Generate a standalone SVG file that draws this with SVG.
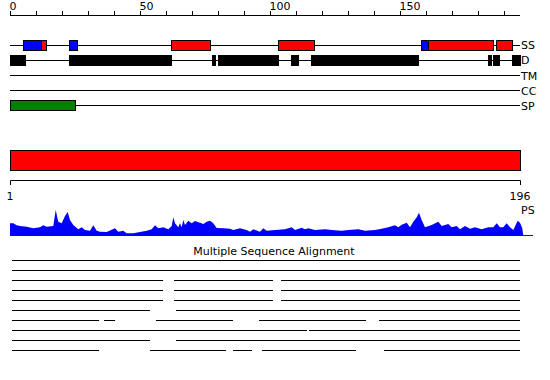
<svg xmlns="http://www.w3.org/2000/svg" width="550" height="380" viewBox="0 0 550 380">
<style>
text{font-family:"DejaVu Sans","Liberation Sans",sans-serif;font-size:11px;fill:#000}
.ln{stroke:#000;stroke-width:1;fill:none}
.bx{stroke:#000;stroke-width:1}
.blue{fill:#0000ff}
.red{fill:#ff0000}
.grn{fill:#008000}
.blk{fill:#000}
</style>
<rect width="550" height="380" fill="#fff"/>
<g id="ruler">
<path class="ln" d="M10,15.5H520M10.5,11V15M36.5,11V15M62.5,11V15M88.5,11V15M114.5,11V15M140.5,11V15M166.5,11V15M192.5,11V15M218.5,11V15M244.5,11V15M270.5,11V15M296.5,11V15M322.5,11V15M348.5,11V15M374.5,11V15M400.5,11V15M426.5,11V15M452.5,11V15M478.5,11V15M504.5,11V15"/>
<text x="9.5" y="10">0</text>
<text x="139.5" y="10">50</text>
<text x="269.5" y="10">100</text>
<text x="399.5" y="10">150</text>
</g>
<g id="track-ss">
<path class="ln" d="M10,45.5H520"/>
<rect class="bx blue" x="23.5" y="40.5" width="18" height="10"/>
<rect class="bx red" x="41.5" y="40.5" width="5" height="10"/>
<rect class="bx blue" x="69.5" y="40.5" width="8" height="10"/>
<rect class="bx red" x="171.5" y="40.5" width="39" height="10"/>
<rect class="bx red" x="278.5" y="40.5" width="36" height="10"/>
<rect class="bx blue" x="421.5" y="40.5" width="7" height="10"/>
<rect class="bx red" x="428.5" y="40.5" width="65" height="10"/>
<rect class="bx red" x="496.5" y="40.5" width="16" height="10"/>
<text x="521" y="49">SS</text>
</g>
<g id="track-d">
<path class="ln" d="M10,60.5H520"/>
<rect class="blk" x="10" y="55" width="16" height="11"/>
<rect class="blk" x="69" y="55" width="103" height="11"/>
<rect class="blk" x="212" y="55" width="4" height="11"/>
<rect class="blk" x="218" y="55" width="61" height="11"/>
<rect class="blk" x="291" y="55" width="8" height="11"/>
<rect class="blk" x="311" y="55" width="108" height="11"/>
<rect class="blk" x="488" y="55" width="4" height="11"/>
<rect class="blk" x="493" y="55" width="7" height="11"/>
<rect class="blk" x="512" y="55" width="9" height="11"/>
<text x="521" y="64">D</text>
</g>
<g id="track-tm">
<path class="ln" d="M10,75.5H520"/>
<text x="521" y="80">TM</text>
</g>
<g id="track-cc">
<path class="ln" d="M10,90.5H520"/>
<text x="521" y="95">CC</text>
</g>
<g id="track-sp">
<path class="ln" d="M10,105.5H520"/>
<rect class="bx grn" x="10.5" y="100.5" width="65" height="10"/>
<text x="521" y="110">SP</text>
</g>
<g id="overview">
<rect class="bx red" x="10.5" y="150.5" width="510" height="20"/>
<path class="ln" d="M10.5,185V180.5H520.5V185"/>
<text x="10" y="200" text-anchor="middle">1</text>
<text x="520" y="200" text-anchor="middle">196</text>
</g>
<g id="profile">
<polygon fill="#0000ff" points="10,236 10,223.3 13.3,223.3 16.7,225.3 20,226 26.7,226.7 33.3,228.3 40,227.3 43.3,225.3 46.7,226.7 53.3,226 55.7,210 58.3,221.7 61.7,223.3 65,216 67.7,212 70,220 73.3,225 78.3,229.3 81.7,227.3 85,230 90,230.7 93.3,225.3 96.7,230.7 100,231.7 106.7,232 115,228.3 118.3,231.7 123.3,230.7 126.7,233.3 133.3,233.3 140,232 146.7,230.7 151.7,229.3 155,225.3 158.3,228.3 163.3,227.3 168.3,229.3 171.7,226 173.3,217.3 175,223.3 178.3,227.3 180,223.3 181.7,227.3 183.3,220 185,225 188.3,220.7 191.7,223.3 195,221 200,222.7 203.3,224 206.7,221.7 210,220.7 213.3,223.3 216.7,228 223.3,228.3 230,228.7 233.3,230 240,228.3 246.7,230 250,231.7 253.3,229.3 260,231.7 263.3,228.3 266.7,230.7 275,230 285,229.3 291.7,227.3 295,230 301.7,227.7 305,229.3 308.3,228.3 315,230 325,229.3 331.7,230 341.7,230.7 348.3,230 358.3,229.3 365,230.7 375,230 381.7,228.7 388.3,227.3 395,225.3 398.3,227.3 401.7,224.7 406.7,222.7 410,227.3 413.3,221.7 416.7,217.3 419,212.7 421.7,220 425,227.3 431.7,225 438.3,221.7 441.7,226 448.3,224 451.7,227.3 456.7,226 460,229.3 465,226 470,228.7 475,227.3 481.7,229.3 488.3,227.3 493.3,227.3 496.7,223.3 500,227.3 503.3,227.3 506.7,223.3 510,227.3 513.3,230 517.7,220.7 520,222.7 522.3,228.3 523.3,236"/>
<path d="M10,235.5H533" stroke="#0000ff" stroke-width="1"/>
<text x="521" y="214">PS</text>
</g>
<g id="msa">
<text x="274" y="255" text-anchor="middle">Multiple Sequence Alignment</text>
<path class="ln" d="M12,260.5H520M12,270.5H520M12,280.5H163M174,280.5H273M281,280.5H520M12,290.5H163M174,290.5H273M281,290.5H520M12,300.5H163M174,300.5H273M281,300.5H520M12,310.5H150M176,310.5H520M12,320.5H99M104,320.5H115M156,320.5H233M259,320.5H366M379,320.5H520M12,330.5H307M309,330.5H520M12,340.5H150M176,340.5H520M12,350.5H99M150,350.5H226M233,350.5H252M262,350.5H356M384,350.5H520"/>
</g>
</svg>
